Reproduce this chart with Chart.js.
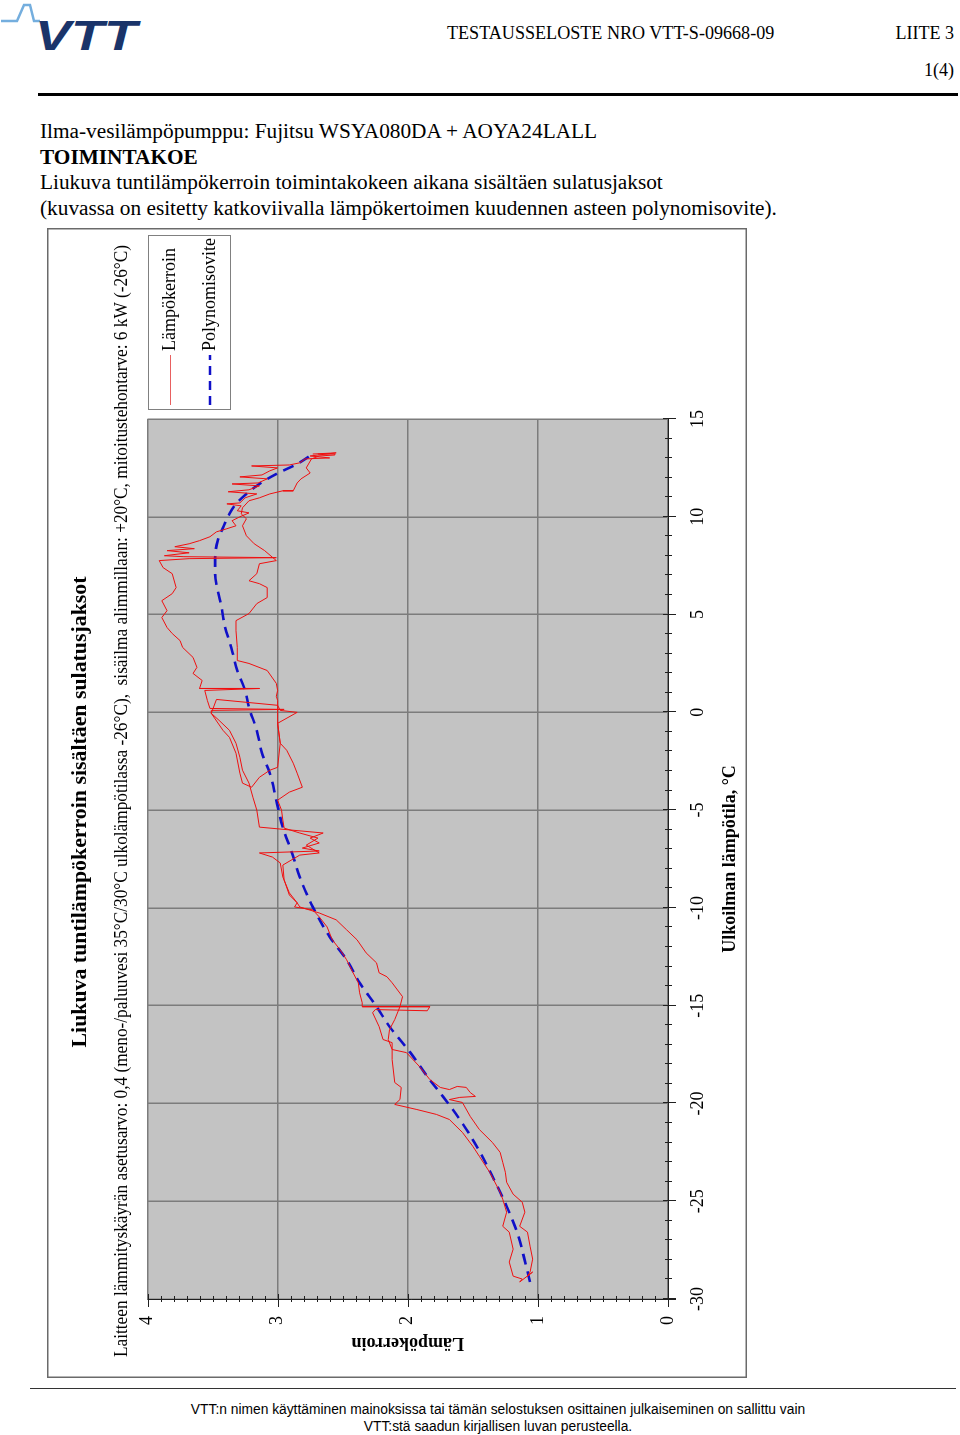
<!DOCTYPE html>
<html>
<head>
<meta charset="utf-8">
<script src="https://cdn.jsdelivr.net/npm/chart.js@4"></script>
<style>
html,body{margin:0;padding:0;background:#fff;}
body{width:960px;height:1435px;position:relative;overflow:hidden;font-family:"Liberation Serif","Times New Roman",serif;color:#000;}
.abs{position:absolute;white-space:nowrap;}
#hdr1{left:447px;top:24px;font-size:18.1px;line-height:18px;}
#hdr2{right:6px;top:24px;font-size:18px;line-height:18px;}
#hdr3{right:6px;top:61px;font-size:18px;line-height:18px;}
#rule{left:38px;top:93px;width:920px;height:3px;background:#000;}
#intro{left:40px;top:119px;font-size:21.3px;line-height:25.7px;}
#intro b{font-weight:bold;}
#footrule{left:30px;top:1388px;width:926px;height:1px;background:#333;}
#foot{left:0;width:996px;top:1401px;text-align:center;font-family:"Liberation Sans",Arial,sans-serif;font-size:13.8px;line-height:17px;}
#chartWrap{position:absolute;left:47px;top:1378px;width:1150px;height:700px;transform-origin:0 0;transform:rotate(-90deg);}
</style>
</head>
<body>
<svg class="abs" style="left:0;top:0" width="145" height="58">
  <polyline points="1,21 17,21 24,5 30,5 34,21 40,21" fill="none" stroke="#74aede" stroke-width="2.5"/>
  <text x="35" y="50" font-family="Liberation Sans" font-weight="bold" font-style="italic" font-size="42" fill="#1a346a" textLength="102" lengthAdjust="spacingAndGlyphs">VTT</text>
</svg>
<div id="hdr1" class="abs">TESTAUSSELOSTE NRO VTT-S-09668-09</div>
<div id="hdr2" class="abs">LIITE 3</div>
<div id="hdr3" class="abs">1(4)</div>
<div id="rule" class="abs"></div>
<div id="intro" class="abs">Ilma-vesilämpöpumppu: Fujitsu WSYA080DA + AOYA24LALL<br><b>TOIMINTAKOE</b><br>Liukuva tuntilämpökerroin toimintakokeen aikana sisältäen sulatusjaksot<br>(kuvassa on esitetty katkoviivalla lämpökertoimen kuudennen asteen polynomisovite).</div>

<div id="chartWrap"><canvas id="c" width="1150" height="700"></canvas></div>

<div id="footrule" class="abs"></div>
<div id="foot" class="abs">VTT:n nimen käyttäminen mainoksissa tai tämän selostuksen osittainen julkaiseminen on sallittu vain<br>VTT:stä saadun kirjallisen luvan perusteella.</div>

<script>
// ---------- DATA ----------
const chartTitle = 'Liukuva tuntilämpökerroin sisältäen sulatusjaksot';
const chartSubtitle = 'Laitteen lämmityskäyrän asetusarvo: 0,4 (meno-/paluuvesi 35°C/30°C ulkolämpötilassa -26°C),  sisäilma alimmillaan: +20°C, mitoitustehontarve: 6 kW (-26°C)';
const xTitle = 'Ulkoilman lämpötila, °C';
const yTitle = 'Lämpökerroin';
const seriesNames = ['Lämpökerroin', 'Polynomisovite'];
const tempTicks = [-30, -25, -20, -15, -10, -5, 0, 5, 10, 15];
const copTicks = [0, 1, 2, 3, 4];

// Hourly COP trace (outdoor temperature, COP)
const redTemp = [
 13.21,13.27,13.11,13.01,12.96,12.76,12.65,12.60,12.50,12.35,12.14,12.04,11.94,11.73,11.68,11.58,11.38,11.28,11.17,10.97,
 10.71,10.66,10.56,10.31,10.20,10.00,9.80,9.54,9.39,9.23,8.98,8.78,8.62,8.47,8.37,8.27,8.16,8.01,7.96,7.91,
 7.86,7.76,7.40,7.09,6.38,6.07,5.71,5.20,4.85,4.34,4.03,3.67,3.32,2.81,2.30,1.99,1.63,1.22,1.22,1.12,
 0.61,0.20,0.15,0.10,-0.05,-0.41,-0.92,-1.58,-2.30,-2.96,-3.62,-4.34,-5.00,-5.87,-6.17,-6.43,-6.68,-6.94,-7.09,-7.19,
 -7.40,-7.70,-8.42,-9.23,-9.74,-9.95,-10.10,-10.46,-10.97,-11.63,-12.14,-12.65,-13.32,-13.83,-14.34,-14.85,-15.05,-15.05,-15.26,-15.20,
 -15.36,-16.07,-16.73,-16.89,-17.76,-18.93,-19.18,-19.80,-20.05,-20.31,-20.56,-20.82,-21.48,-22.19,-22.70,-23.52,-24.54,-24.90,-25.56,-26.28,
 -26.58,-27.45,-28.11,-28.83,-28.98,-29.13,-28.62,-28.83,
 -28.62,-27.96,-27.30,-26.58,-26.28,-25.56,-25.05,-24.64,-24.03,-23.52,-23.01,-22.50,-21.99,-21.33,-20.66,-19.95,-19.80,-19.69,-19.64,-19.44,
 -19.18,-19.13,-19.29,-19.18,-18.78,-18.11,-17.40,-17.24,-16.73,-16.22,-15.71,-15.05,-14.54,-13.83,-13.52,-13.32,-12.81,-12.30,-11.63,-11.12,
 -10.61,-10.26,-9.95,-9.74,-9.34,-8.57,-7.81,-7.30,-7.19,-6.79,-6.43,-6.17,-5.92,-5.51,-5.00,-4.49,-4.08,-3.83,-3.11,-2.60,
 -1.94,-1.58,-0.56,0.00,0.10,0.36,0.66,-0.05,-0.92,-1.28,-2.09,-3.11,-3.62,-3.83,-3.32,-2.96,-2.81,-1.58,-0.56,0.61,
 0.82,1.12,1.48,2.14,2.50,2.65,3.32,4.18,4.69,5.05,5.56,5.87,6.38,6.58,6.73,7.09,7.60,7.76,8.27,8.62,
 9.03,9.54,9.90,10.15,10.46,10.82,10.97,11.17,11.33,11.33,11.73,11.94,12.24,12.50,12.96,13.11,13.16,13.21
];
const redCop = [
 2.73,2.55,2.75,2.60,2.79,2.83,2.91,3.20,3.00,3.06,3.12,3.29,3.08,3.15,3.35,3.14,3.22,3.38,3.16,3.25,
 3.29,3.39,3.28,3.31,3.22,3.29,3.35,3.32,3.39,3.47,3.52,3.60,3.68,3.79,3.64,3.85,3.68,3.87,3.72,3.01,
 3.68,3.91,3.88,3.81,3.78,3.81,3.89,3.85,3.89,3.85,3.81,3.75,3.73,3.65,3.62,3.65,3.58,3.60,3.14,3.56,
 3.54,3.52,2.95,3.51,3.51,3.45,3.37,3.32,3.29,3.27,3.22,3.19,3.16,3.14,2.65,2.75,2.68,2.81,2.68,3.14,
 3.04,2.98,2.96,2.91,2.85,2.87,2.73,2.68,2.62,2.58,2.52,2.47,2.42,2.38,2.37,2.35,2.35,1.83,1.85,2.25,
 2.27,2.22,2.19,2.12,2.12,2.10,2.05,2.06,2.10,1.93,1.78,1.68,1.58,1.50,1.45,1.37,1.29,1.27,1.24,1.27,
 1.22,1.19,1.22,1.19,1.12,1.14,1.04,1.08,
 1.06,1.04,1.06,1.08,1.14,1.10,1.12,1.19,1.24,1.25,1.27,1.29,1.35,1.45,1.52,1.58,1.68,1.60,1.48,1.52,
 1.55,1.62,1.68,1.75,1.83,1.91,2.01,2.12,2.15,2.14,2.10,2.06,2.04,2.12,2.16,2.22,2.24,2.32,2.39,2.47,
 2.55,2.68,2.83,2.85,2.91,2.95,2.96,2.83,2.68,2.78,2.69,2.83,2.95,2.96,2.97,3.00,2.91,2.81,2.85,2.88,
 2.93,2.98,3.00,2.85,2.98,3.00,3.47,3.51,3.42,3.37,3.32,3.29,3.27,3.20,3.14,3.06,3.00,2.98,3.00,3.00,
 3.01,3.00,3.01,3.08,3.22,3.31,3.31,3.32,3.32,3.22,3.16,3.08,3.08,3.14,3.22,3.16,3.14,3.01,3.10,3.18,
 3.24,3.27,3.24,3.28,3.27,3.22,3.14,3.06,2.96,2.88,2.85,2.82,2.75,2.78,2.74,2.68,2.56,2.69
];

// Sixth-degree polynomial fit
const fitTemp = [-29.13,-28.32,-26.58,-25.26,-23.72,-22.19,-20.82,-19.64,-18.62,-17.40,-16.07,-15.05,-13.83,-12.65,-11.48,-9.95,-8.42,-7.19,-5.87,-4.49,-3.11,-2.09,-0.92,0.26,1.12,2.14,3.16,4.54,5.36,6.22,7.09,7.91,8.78,9.44,10.15,10.66,11.17,11.68,12.19,12.70,13.21];
const fitCop  = [1.06,1.09,1.16,1.24,1.35,1.47,1.60,1.73,1.85,1.98,2.14,2.24,2.37,2.47,2.60,2.73,2.83,2.89,2.96,3.01,3.06,3.12,3.16,3.22,3.25,3.31,3.35,3.41,3.43,3.46,3.48,3.48,3.46,3.42,3.37,3.32,3.24,3.14,3.01,2.85,2.73];

// ---------- STYLE ----------
const SERIF = '"Liberation Serif", "Times New Roman", serif';
const RED = '#f01010';
const BLUE = '#1010c8';
const PLOT_BG = '#c3c3c3';
const GRID = '#7c7c7c';

const redPts = redTemp.map((t, i) => ({x: t, y: redCop[i]}));
const fitPts = fitTemp.map((t, i) => ({x: t, y: fitCop[i]}));

const decor = {
  id: 'decor',
  beforeDraw(chart) {
    const {ctx, chartArea: a, width, height} = chart;
    ctx.save();
    ctx.fillStyle = '#fff';
    ctx.fillRect(0, 0, width, height);
    ctx.fillStyle = PLOT_BG;
    ctx.fillRect(a.left, a.top, a.right - a.left, a.bottom - a.top);
    ctx.restore();
  },
  afterDraw(chart) {
    const {ctx, chartArea: a, width, height} = chart;
    const xs = chart.scales.x, ys = chart.scales.y;
    ctx.save();
    // axis lines
    ctx.strokeStyle = '#202020';
    ctx.lineWidth = 1;
    ctx.beginPath();
    ctx.moveTo(a.left, a.bottom + 0.5); ctx.lineTo(a.right, a.bottom + 0.5);
    ctx.moveTo(a.left - 0.5, a.top); ctx.lineTo(a.left - 0.5, a.bottom + 8);
    // temperature ticks (major 5, minor 1)
    for (let t = tempTicks[0]; t <= tempTicks[tempTicks.length - 1]; t++) {
      const px = Math.round(xs.getPixelForValue(t)) + 0.5;
      const major = (t % 5 === 0);
      ctx.moveTo(px, a.bottom - (major ? 5 : 3));
      ctx.lineTo(px, a.bottom + (major ? 8 : 4));
    }
    // COP ticks (major 1, minor 0.1)
    for (let k = 0; k <= 40; k++) {
      const py = Math.round(ys.getPixelForValue(k / 10)) + 0.5;
      const major = (k % 10 === 0);
      ctx.moveTo(a.left - (major ? 8 : 3), py);
      ctx.lineTo(a.left + (major ? 5 : 3), py);
    }
    ctx.stroke();

    // frame
    ctx.strokeStyle = '#6a6a6a';
    ctx.lineWidth = 1.5;
    ctx.strokeRect(0.75, 0.75, width - 1.5, height - 1.5);

    // titles
    ctx.fillStyle = '#000';
    ctx.textBaseline = 'middle';
    ctx.textAlign = 'center';
    ctx.font = 'bold 22px ' + SERIF;
    ctx.fillText(chartTitle, 566, 33, 471);
    ctx.font = '18px ' + SERIF;
    ctx.fillText(chartSubtitle, 577, 75, 1112);

    // legend
    const L = {x: 968, y: 101, w: 174, h: 82};
    ctx.strokeStyle = '#808080';
    ctx.lineWidth = 1;
    ctx.strokeRect(L.x + 0.5, L.y + 0.5, L.w, L.h);
    ctx.strokeStyle = '#e86060';
    ctx.lineWidth = 1;
    ctx.beginPath(); ctx.moveTo(973, 123.5); ctx.lineTo(1023, 123.5); ctx.stroke();
    ctx.strokeStyle = BLUE;
    ctx.lineWidth = 2.5;
    ctx.setLineDash([9, 6]);
    ctx.beginPath(); ctx.moveTo(973, 163); ctx.lineTo(1023, 163); ctx.stroke();
    ctx.setLineDash([]);
    ctx.textAlign = 'left';
    ctx.font = '18px ' + SERIF;
    ctx.fillText(seriesNames[0], 1027, 123);
    ctx.fillText(seriesNames[1], 1027, 163);
    ctx.restore();
  }
};

new Chart(document.getElementById('c'), {
  type: 'line',
  data: {
    datasets: [
      {label: seriesNames[0], data: redPts, borderColor: RED, borderWidth: 1, pointRadius: 0, tension: 0, fill: false},
      {label: seriesNames[1], data: fitPts, borderColor: BLUE, borderWidth: 2.6, borderDash: [11, 7], pointRadius: 0, cubicInterpolationMode: 'monotone', fill: false}
    ]
  },
  options: {
    responsive: false,
    animation: false,
    devicePixelRatio: 1,
    layout: {padding: {top: 100.5, right: 191, bottom: 0, left: 0}},
    plugins: {legend: {display: false}, title: {display: false}, tooltip: {enabled: false}},
    scales: {
      x: {
        type: 'linear', min: tempTicks[0], max: tempTicks[tempTicks.length - 1],
        afterBuildTicks: s => { s.ticks = tempTicks.map(v => ({value: v})); },
        afterFit: s => { s.height = 79; },
        grid: {color: GRID, lineWidth: 1.5, drawTicks: false},
        border: {display: false},
        ticks: {padding: 19, color: '#000', font: {family: SERIF, size: 18}, maxRotation: 0, autoSkip: false, callback: v => String(v)},
        title: {display: true, text: xTitle, color: '#000', font: {family: SERIF, size: 18, weight: 'bold'}, padding: {top: 0, bottom: 6}}
      },
      y: {
        type: 'linear', min: copTicks[0], max: copTicks[copTicks.length - 1],
        afterBuildTicks: s => { s.ticks = copTicks.map(v => ({value: v})); },
        afterFit: s => { s.width = 79; },
        grid: {color: GRID, lineWidth: 1.5, drawTicks: false},
        border: {display: false},
        ticks: {padding: 17, color: '#000', font: {family: SERIF, size: 18}, autoSkip: false, callback: v => String(v)},
        title: {display: true, text: yTitle, color: '#000', font: {family: SERIF, size: 18, weight: 'bold'}, padding: {top: 25, bottom: 0}}
      }
    }
  },
  plugins: [decor]
});
</script>
</body>
</html>
